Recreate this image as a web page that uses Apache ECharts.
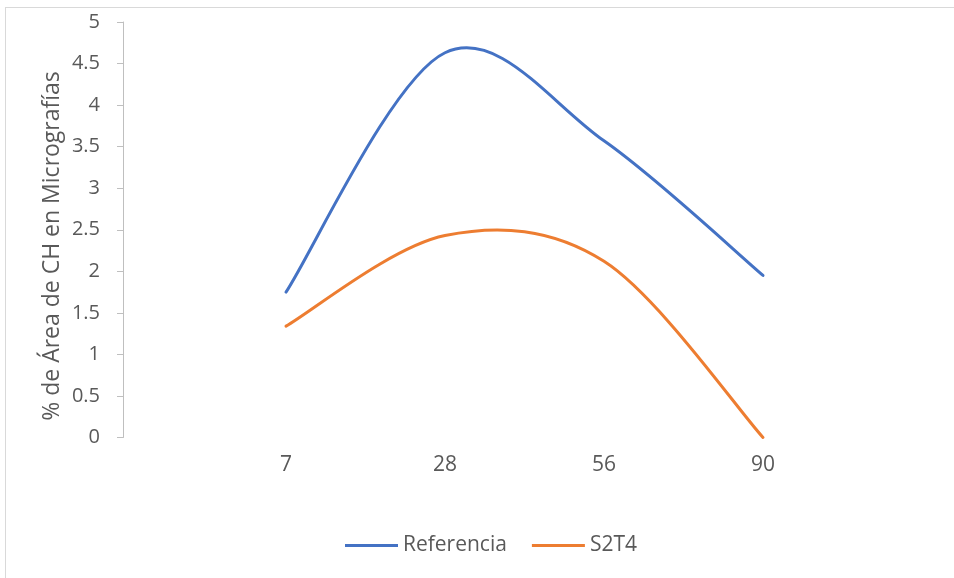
<!DOCTYPE html>
<html>
<head>
<meta charset="utf-8">
<script src="https://cdn.jsdelivr.net/npm/echarts@6/dist/echarts.min.js"></script>
<style>
  html, body { margin: 0; padding: 0; background: #ffffff; }
  #wrap { position: relative; width: 954px; height: 578px; overflow: hidden; background: #ffffff; }
  #frame { position: absolute; left: 5px; top: 7px; width: 1000px; height: 600px; border: 1px solid #d9d9d9; box-sizing: border-box; }
  #chart { position: absolute; left: 0; top: 0; width: 954px; height: 578px; }
</style>
</head>
<body>
<div id="wrap">
  <div id="frame"></div>
  <div id="chart"></div>
</div>
<script>
// Días de curado
const categories = ['7', '28', '56', '90'];
// % de área de CH medida en micrografías
const referencia = [1.75, 4.63, 3.57, 1.95];
const s2t4 = [1.34, 2.43, 2.12, 0];
const yTicks = { min: 0, max: 5, interval: 0.5 };

const FONT = '"Open Sans", Lato, sans-serif';
const TEXT = '#595959';

// Smoothed curve through the points (Catmull-Rom style, tension 1/6),
// positioned with the chart's own coordinate system.
function smoothCurve(values, color) {
  return function (params, api) {
    if (params.dataIndex !== 0) return null;
    const pts = values.map(function (v, i) { return api.coord([i, v]); });
    const n = pts.length;
    let d = 'M' + pts[0][0] + ' ' + pts[0][1];
    for (let i = 0; i < n - 1; i++) {
      const p0 = pts[Math.max(i - 1, 0)];
      const p1 = pts[i];
      const p2 = pts[i + 1];
      const p3 = pts[Math.min(i + 2, n - 1)];
      const c1x = p1[0] + (p2[0] - p0[0]) / 6;
      const c1y = p1[1] + (p2[1] - p0[1]) / 6;
      const c2x = p2[0] - (p3[0] - p1[0]) / 6;
      const c2y = p2[1] - (p3[1] - p1[1]) / 6;
      d += ' C' + c1x + ' ' + c1y + ' ' + c2x + ' ' + c2y + ' ' + p2[0] + ' ' + p2[1];
    }
    return {
      type: 'path',
      shape: { pathData: d },
      style: { fill: null, stroke: color, lineWidth: 3, lineCap: 'round', lineJoin: 'round' }
    };
  };
}

function curveSeries(name, values, color) {
  return {
    name: name,
    type: 'custom',
    coordinateSystem: 'cartesian2d',
    color: color,
    itemStyle: { color: color },
    clip: false,
    data: values.map(function (v, i) { return [i, v]; }),
    encode: { x: 0, y: 1 },
    renderItem: smoothCurve(values, color)
  };
}

const chart = echarts.init(document.getElementById('chart'), null, { renderer: 'canvas' });
chart.setOption({
  animation: false,
  backgroundColor: 'transparent',
  textStyle: { fontFamily: FONT },
  grid: { left: 206.5, right: 111.5, top: 22, bottom: 140.5, containLabel: false },
  legend: {
    bottom: 17,
    left: 340,
    itemWidth: 53,
    itemHeight: 3,
    itemGap: 25,
    icon: 'rect',
    textStyle: { fontSize: 21, color: TEXT, fontFamily: FONT, padding: [0, 0, 0, 0] },
    data: ['Referencia', 'S2T4']
  },
  xAxis: {
    type: 'category',
    data: categories,
    boundaryGap: true,
    axisLine: { show: false },
    axisTick: { show: false },
    splitLine: { show: false },
    axisLabel: { fontSize: 21, color: TEXT, margin: 17, fontFamily: FONT }
  },
  yAxis: {
    type: 'value',
    min: yTicks.min,
    max: yTicks.max,
    interval: yTicks.interval,
    offset: 83.5,
    axisLine: { show: true, lineStyle: { color: '#bfbfbf', width: 1 } },
    axisTick: { show: true, inside: false, length: 6, lineStyle: { color: '#bfbfbf' } },
    splitLine: { show: false },
    axisLabel: { fontSize: 20, color: TEXT, margin: 23, fontFamily: FONT }
  },
  graphic: [{
    type: 'text',
    x: 52,
    y: 246,
    rotation: Math.PI / 2,
    style: {
      text: '% de Área de CH en Micrografías',
      fill: TEXT,
      font: '23px ' + FONT,
      align: 'center',
      verticalAlign: 'middle'
    }
  }],
  series: [
    curveSeries('Referencia', referencia, '#4472C4'),
    curveSeries('S2T4', s2t4, '#ED7D31')
  ]
});
</script>
</body>
</html>
